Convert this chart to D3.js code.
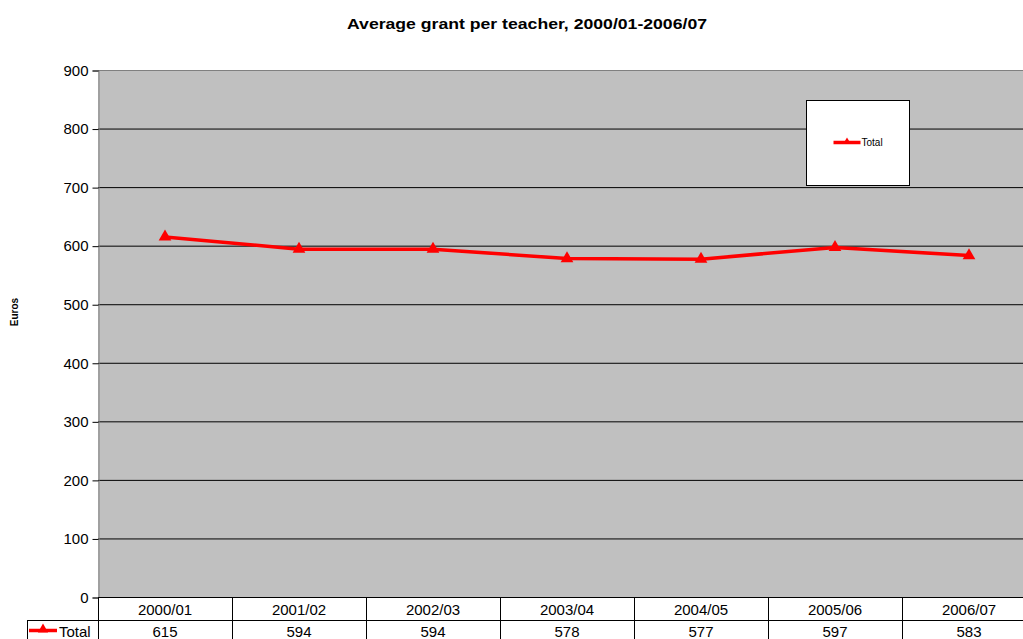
<!DOCTYPE html>
<html>
<head>
<meta charset="utf-8">
<script src="https://cdn.jsdelivr.net/npm/d3@7"></script>
<style>
  body { margin: 0; background: #fff; }
  text { font-family: "Liberation Sans", Arial, sans-serif; }
</style>
</head>
<body>
<div id="chart"></div>
<script>
// data
var years = ["2000/01", "2001/02", "2002/03", "2003/04", "2004/05", "2005/06", "2006/07"];
var totals = [615, 594, 594, 578, 577, 597, 583];
var yTicks = [0, 100, 200, 300, 400, 500, 600, 700, 800, 900];
var seriesName = "Total";

var W = 1023, H = 639;
var margin = {top: 70, left: 98, bottom: 42};
var colW = 134;
var plotH = H - margin.top - margin.bottom; // 527

var svg = d3.select("#chart").append("svg")
    .attr("width", W)
    .attr("height", H);

var x = d3.scaleBand()
    .domain(years)
    .range([margin.left, margin.left + colW * years.length]);

var y = d3.scaleLinear()
    .domain([0, 900])
    .range([margin.top + plotH, margin.top]);

// plot background
svg.append("rect")
    .attr("x", margin.left)
    .attr("y", margin.top)
    .attr("width", W - margin.left)
    .attr("height", plotH)
    .attr("fill", "#c0c0c0");

// gridlines
svg.selectAll(".grid")
    .data(yTicks.slice(1, -1))
    .enter().append("line")
    .attr("x1", margin.left).attr("x2", W)
    .attr("y1", function (d) { return y(d) + 0.5; })
    .attr("y2", function (d) { return y(d) + 0.5; })
    .attr("stroke", "#000").attr("stroke-width", 1);

// top border of plot
svg.append("line")
    .attr("x1", margin.left).attr("x2", W)
    .attr("y1", y(900) + 0.5).attr("y2", y(900) + 0.5)
    .attr("stroke", "#808080");

// y axis
var yAxis = svg.append("g")
    .attr("transform", "translate(" + (margin.left + 0.5) + ",0.5)")
    .call(d3.axisLeft(y).tickValues(yTicks).tickSize(6).tickPadding(4));
yAxis.select(".domain").attr("stroke", "#808080");
yAxis.selectAll(".tick line").attr("stroke", "#000");
yAxis.selectAll("text")
    .style("font-family", "'Liberation Sans', Arial, sans-serif")
    .style("font-size", "15px")
    .attr("fill", "#000");

// title
svg.append("text")
    .attr("x", 527).attr("y", 29)
    .attr("textLength", 360)
    .attr("lengthAdjust", "spacingAndGlyphs")
    .style("text-anchor", "middle")
    .style("font-weight", "bold")
    .style("font-size", "15px")
    .text("Average grant per teacher, 2000/01-2006/07");

// y label
svg.append("text")
    .attr("transform", "translate(18,312) rotate(-90)")
    .style("text-anchor", "middle")
    .style("font-weight", "bold")
    .style("font-size", "10px")
    .text("Euros");

// line
var line = d3.line()
    .x(function (d, i) { return x(years[i]) + x.bandwidth() / 2; })
    .y(function (d) { return y(d); });

svg.append("path")
    .datum(totals)
    .attr("fill", "none")
    .attr("stroke", "#ff0000")
    .attr("stroke-width", 3.5)
    .attr("stroke-linejoin", "round")
    .attr("d", line);

var tri = d3.symbol().type(d3.symbolTriangle).size(70);
svg.selectAll(".marker")
    .data(totals)
    .enter().append("path")
    .attr("class", "marker")
    .attr("transform", function (d, i) {
        return "translate(" + (x(years[i]) + x.bandwidth() / 2) + "," + y(d) + ")";
    })
    .attr("d", tri)
    .attr("fill", "#ff0000");

// legend box
var lg = svg.append("g").attr("transform", "translate(806.5,100.5)");
lg.append("rect")
    .attr("width", 103).attr("height", 85)
    .attr("fill", "#fff").attr("stroke", "#000");
lg.append("line")
    .attr("x1", 27).attr("x2", 54).attr("y1", 42).attr("y2", 42)
    .attr("stroke", "#ff0000").attr("stroke-width", 3.5);
lg.append("path")
    .attr("transform", "translate(40.5,41)")
    .attr("d", d3.symbol().type(d3.symbolTriangle).size(22))
    .attr("fill", "#ff0000");
lg.append("text")
    .attr("x", 55).attr("y", 45.5)
    .style("font-size", "10px")
    .text(seriesName);

// data table
var tableTop = y(0) + 0.5;
var rowH = 23;
var table = svg.append("g");

// horizontal lines
table.append("line")
    .attr("x1", margin.left).attr("x2", W)
    .attr("y1", tableTop).attr("y2", tableTop)
    .attr("stroke", "#000");
table.append("line")
    .attr("x1", 27).attr("x2", W)
    .attr("y1", tableTop + rowH).attr("y2", tableTop + rowH)
    .attr("stroke", "#000");

// vertical lines
var cols = years.map(function (d) { return x(d); }).concat([x.range()[1]]);
table.selectAll(".vline")
    .data(cols)
    .enter().append("line")
    .attr("x1", function (d) { return d + 0.5; })
    .attr("x2", function (d) { return d + 0.5; })
    .attr("y1", tableTop).attr("y2", H)
    .attr("stroke", "#000");
table.append("line")
    .attr("x1", 27.5).attr("x2", 27.5)
    .attr("y1", tableTop + rowH).attr("y2", H)
    .attr("stroke", "#000");

table.selectAll(".hdr")
    .data(years)
    .enter().append("text")
    .attr("x", function (d) { return x(d) + x.bandwidth() / 2; })
    .attr("y", tableTop + 17)
    .style("text-anchor", "middle")
    .style("font-size", "15px")
    .text(function (d) { return d; });

table.selectAll(".val")
    .data(totals)
    .enter().append("text")
    .attr("x", function (d, i) { return x(years[i]) + x.bandwidth() / 2; })
    .attr("y", tableTop + rowH + 16)
    .style("text-anchor", "middle")
    .style("font-size", "15px")
    .text(function (d) { return d; });

// table legend key
table.append("line")
    .attr("x1", 29).attr("x2", 57)
    .attr("y1", tableTop + rowH + 10).attr("y2", tableTop + rowH + 10)
    .attr("stroke", "#ff0000").attr("stroke-width", 3.5);
table.append("path")
    .attr("transform", "translate(43," + (tableTop + rowH + 9) + ")")
    .attr("d", d3.symbol().type(d3.symbolTriangle).size(45))
    .attr("fill", "#ff0000");
table.append("text")
    .attr("x", 59).attr("y", tableTop + rowH + 16)
    .style("font-size", "15px")
    .text(seriesName);
</script>
</body>
</html>
